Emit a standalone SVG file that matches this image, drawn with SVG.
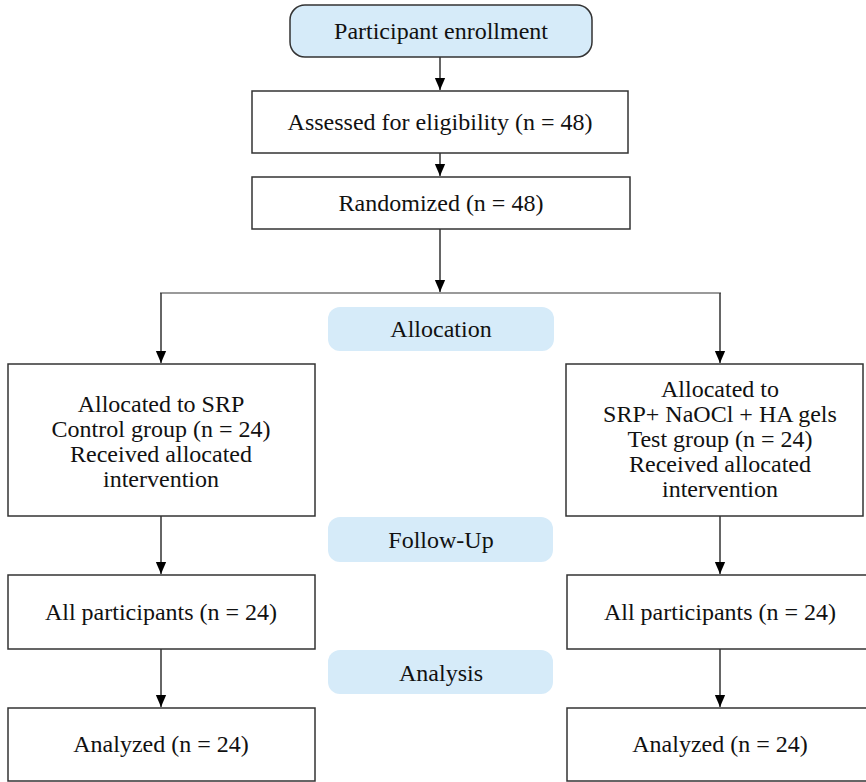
<svg xmlns="http://www.w3.org/2000/svg" width="866" height="782" viewBox="0 0 866 782">
<style>
.box{fill:#fff;stroke:#333;stroke-width:1.5}
.start{fill:#d6ebf9;stroke:#333;stroke-width:1.5}
.pill{fill:#d6ebf9;stroke:none}
text{font-family:'Liberation Serif',serif;font-size:24px;fill:#111;text-anchor:middle}
.c{stroke:#333;stroke-width:1.5;fill:none}
.split{stroke:#9a9a9a;stroke-width:2;fill:none}
</style>
<defs>
<marker id="ah" markerUnits="userSpaceOnUse" markerWidth="12" markerHeight="15" refX="14" refY="6" orient="auto" viewBox="0 0 14 12">
<path d="M0,0 L14,6 L0,12 Z" fill="#000"/>
</marker>
</defs>
<g id="connectors">
<line class="c" x1="440" y1="57" x2="440" y2="90" marker-end="url(#ah)"/>
<line class="c" x1="440" y1="153" x2="440" y2="176" marker-end="url(#ah)"/>
<line class="c" x1="440" y1="229" x2="440" y2="292" marker-end="url(#ah)"/>
<line class="split" x1="160" y1="293" x2="721" y2="293"/>
<line class="c" x1="161" y1="293" x2="161" y2="363" marker-end="url(#ah)"/>
<line class="c" x1="720" y1="293" x2="720" y2="363" marker-end="url(#ah)"/>
<line class="c" x1="161" y1="516" x2="161" y2="574" marker-end="url(#ah)"/>
<line class="c" x1="720" y1="516" x2="720" y2="574" marker-end="url(#ah)"/>
<line class="c" x1="161" y1="649" x2="161" y2="707" marker-end="url(#ah)"/>
<line class="c" x1="720" y1="649" x2="720" y2="707" marker-end="url(#ah)"/>
</g>
<g id="enroll">
<rect class="start" x="290" y="5" width="302" height="52" rx="15"/>
<text x="441" y="39">Participant enrollment</text>
</g>
<g id="assessed">
<rect class="box" x="252" y="91" width="376" height="62"/>
<text x="440" y="130">Assessed for eligibility (n = 48)</text>
</g>
<g id="randomized">
<rect class="box" x="252" y="177" width="378" height="52"/>
<text x="441" y="211">Randomized (n = 48)</text>
</g>
<g id="allocation">
<rect class="pill" x="328" y="307" width="226" height="44" rx="12"/>
<text x="441" y="337">Allocation</text>
</g>
<g id="control">
<rect class="box" x="8" y="364" width="307" height="152"/>
<text x="161" y="412">Allocated to SRP</text>
<text x="161" y="437">Control group (n = 24)</text>
<text x="161" y="462">Received allocated</text>
<text x="161" y="487">intervention</text>
</g>
<g id="test">
<rect class="box" x="566" y="364" width="297" height="152"/>
<text x="720" y="397">Allocated to</text>
<text x="720" y="422">SRP+ NaOCl + HA gels</text>
<text x="720" y="447">Test group (n = 24)</text>
<text x="720" y="472">Received allocated</text>
<text x="720" y="497">intervention</text>
</g>
<g id="followup">
<rect class="pill" x="328" y="517" width="225" height="45" rx="12"/>
<text x="441" y="548">Follow-Up</text>
</g>
<g id="all-left">
<rect class="box" x="8" y="575" width="307" height="74"/>
<text x="161" y="620">All participants (n = 24)</text>
</g>
<g id="all-right">
<rect class="box" x="567" y="575" width="300" height="74"/>
<text x="720" y="620">All participants (n = 24)</text>
</g>
<g id="analysis">
<rect class="pill" x="328" y="650" width="225" height="44" rx="12"/>
<text x="441" y="681">Analysis</text>
</g>
<g id="analyzed-left">
<rect class="box" x="8" y="708" width="307" height="73"/>
<text x="161" y="752">Analyzed (n = 24)</text>
</g>
<g id="analyzed-right">
<rect class="box" x="567" y="708" width="300" height="73"/>
<text x="720" y="752">Analyzed (n = 24)</text>
</g>
</svg>
